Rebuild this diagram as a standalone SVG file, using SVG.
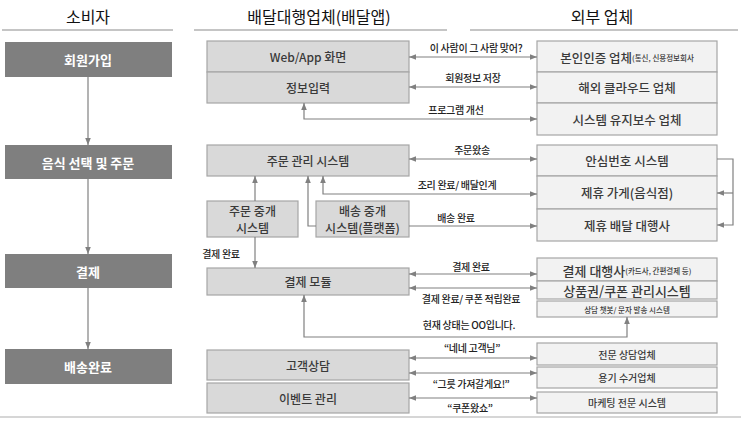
<svg xmlns="http://www.w3.org/2000/svg" width="741" height="421" viewBox="0 0 741 421">
<style>
text{font-family:"Noto Sans CJK KR","Noto Sans",sans-serif;text-anchor:middle;dominant-baseline:central}
.h{font-size:16px;fill:#111}
.l rect{fill:#7f7f7f}
.l text{fill:#fff;font-size:13px;font-weight:bold}
.m rect{fill:#d9d9d9;stroke:#a6a6a6;stroke-width:1.2}
.m text{fill:#3a3a3a;font-size:12px;font-weight:500}
.r rect{fill:#f2f2f2;stroke:#a6a6a6;stroke-width:1.2}
.r text{fill:#3a3a3a;font-size:12.5px;font-weight:500}
.lb{font-size:10px;fill:#222;letter-spacing:-0.3px;font-weight:500}
.c path{fill:none;stroke:#808080;stroke-width:1.2}
.b{marker-start:url(#a);marker-end:url(#a)}
.e{marker-end:url(#a)}
.s{marker-start:url(#a)}
</style>
<defs>
<marker id="a" viewBox="0 0 10 10" refX="10" refY="5" markerWidth="7" markerHeight="7" markerUnits="userSpaceOnUse" orient="auto-start-reverse"><path d="M0,1 L10,5 L0,9 z" fill="#808080"/></marker>
</defs>
<rect width="741" height="421" fill="#fff"/>
<g id="headers">
<text class="h" x="88" y="16">소비자</text>
<text class="h" x="319" y="16">배달대행업체(배달앱)</text>
<text class="h" x="602" y="16">외부 업체</text>
<path d="M2,30H173M194,30H447M470,30H738" stroke="#8c8c8c" stroke-width="1.2"/>
<path d="M0,417H741" stroke="#c8c8c8" stroke-width="1.5"/>
</g>
<g id="consumer" class="l">
<g id="n-join"><rect x="5" y="42" width="167" height="35"/><text x="88" y="59">회원가입</text></g>
<g id="n-order"><rect x="5" y="145" width="167" height="34"/><text x="88" y="162">음식 선택 및 주문</text></g>
<g id="n-pay"><rect x="5" y="254" width="167" height="34"/><text x="88" y="271">결제</text></g>
<g id="n-done"><rect x="5" y="349" width="167" height="35"/><text x="88" y="366">배송완료</text></g>
</g>
<g id="app" class="m">
<g id="n-web"><rect x="207" y="41" width="202" height="31"/><text x="308" y="56.5">Web/App 화면</text></g>
<g id="n-info"><rect x="207" y="72" width="202" height="31"/><text x="308" y="87.5">정보입력</text></g>
<g id="n-oms"><rect x="207" y="145" width="202" height="31"/><text x="308" y="160.5">주문 관리 시스템</text></g>
<g id="n-obroker"><rect x="207" y="201" width="91" height="36"/><text x="252.5" y="210.5">주문 중개</text><text x="252.5" y="227.5">시스템</text></g>
<g id="n-dbroker"><rect x="316" y="201" width="93" height="36"/><text x="362.5" y="210.5">배송 중개</text><text x="362.5" y="227.5">시스템(플랫폼)</text></g>
<g id="n-paymod"><rect x="207" y="268" width="202" height="27"/><text x="308" y="281.5">결제 모듈</text></g>
<g id="n-cs"><rect x="207" y="350" width="202" height="30"/><text x="308" y="365">고객상담</text></g>
<g id="n-event"><rect x="207" y="383" width="202" height="30"/><text x="308" y="398">이벤트 관리</text></g>
</g>
<g id="external" class="r">
<g id="n-auth"><rect x="537" y="41" width="180" height="31"/><text x="627" y="56.5"><tspan>본인인증 업체</tspan><tspan font-size="7.5px">(통신, 신용정보회사</tspan></text></g>
<g id="n-cloud"><rect x="537" y="72" width="180" height="31"/><text x="627" y="87.5">해외 클라우드 업체</text></g>
<g id="n-maint"><rect x="537" y="103" width="180" height="32"/><text x="627" y="119">시스템 유지보수 업체</text></g>
<g id="n-safe"><rect x="537" y="145" width="180" height="31"/><text x="627" y="160.5">안심번호 시스템</text></g>
<g id="n-store"><rect x="537" y="176" width="180" height="33"/><text x="627" y="192.5">제휴 가게(음식점)</text></g>
<g id="n-courier"><rect x="537" y="209" width="180" height="32"/><text x="627" y="225">제휴 배달 대행사</text></g>
<g id="n-pg"><rect x="537" y="258" width="180" height="23"/><text x="627" y="269.5"><tspan style="font-size:13px">결제 대행사</tspan><tspan style="font-size:7.5px">(카드사, 간편결제 등)</tspan></text></g>
<g id="n-coupon"><rect x="537" y="281" width="180" height="18"/><text x="627" y="290" style="font-size:13px">상품권/쿠폰 관리시스템</text></g>
<g id="n-chatbot"><rect x="537" y="301" width="180" height="16"/><text x="627" y="309" style="font-size:7.5px">상담 챗봇/ 문자 발송 시스템</text></g>
<g id="n-callc"><rect x="537" y="343" width="180" height="22"/><text x="627" y="354" style="font-size:10px">전문 상담업체</text></g>
<g id="n-pickup"><rect x="537" y="367" width="180" height="21"/><text x="627" y="377.5" style="font-size:10px">용기 수거업체</text></g>
<g id="n-mkt"><rect x="537" y="392" width="180" height="21"/><text x="627" y="402.5" style="font-size:10px">마케팅 전문 시스템</text></g>
</g>
<g id="connectors" class="c">
<path class="e" d="M88,77V145"/>
<path class="e" d="M88,179V254"/>
<path class="e" d="M88,288V349"/>
<path class="b" d="M409,57H537"/>
<path class="b" d="M409,87H537"/>
<path class="b" d="M304,103V119H537"/>
<path class="b" d="M409,159H537"/>
<path class="b" d="M323,176V194H537"/>
<path class="s" d="M308,176V226H316"/>
<path class="e" d="M409,226H537"/>
<path class="e" d="M255,201V176"/>
<path class="e" d="M255,237V268"/>
<path class="e" d="M717,159H733V225H717"/>
<path class="e" d="M733,193H717"/>
<path class="b" d="M409,274H537"/>
<path class="b" d="M409,288H537"/>
<path class="b" d="M627,317V337H304V295"/>
<path class="b" d="M409,358H537"/>
<path class="b" d="M409,373H537"/>
<path class="b" d="M409,398H537"/>
</g>
<g id="labels">
<text class="lb" x="476" y="47">이 사람이 그 사람 맞어?</text>
<text class="lb" x="473" y="77">회원정보 저장</text>
<text class="lb" x="456" y="109">프로그램 개선</text>
<text class="lb" x="472" y="149">주문왔송</text>
<text class="lb" x="457" y="184">조리 완료/ 배달인계</text>
<text class="lb" x="456" y="217">배송 완료</text>
<text class="lb" x="221" y="253">결제 완료</text>
<text class="lb" x="471" y="266">결제 완료</text>
<text class="lb" x="471" y="298">결제 완료/ 쿠폰 적립완료</text>
<text class="lb" x="469" y="324">현재 상태는 OO입니다.</text>
<text class="lb" x="472" y="347">“네네 고객님”</text>
<text class="lb" x="471" y="383">“그릇 가져갈게요!”</text>
<text class="lb" x="470" y="407">“쿠폰왔쇼”</text>
</g>
</svg>
